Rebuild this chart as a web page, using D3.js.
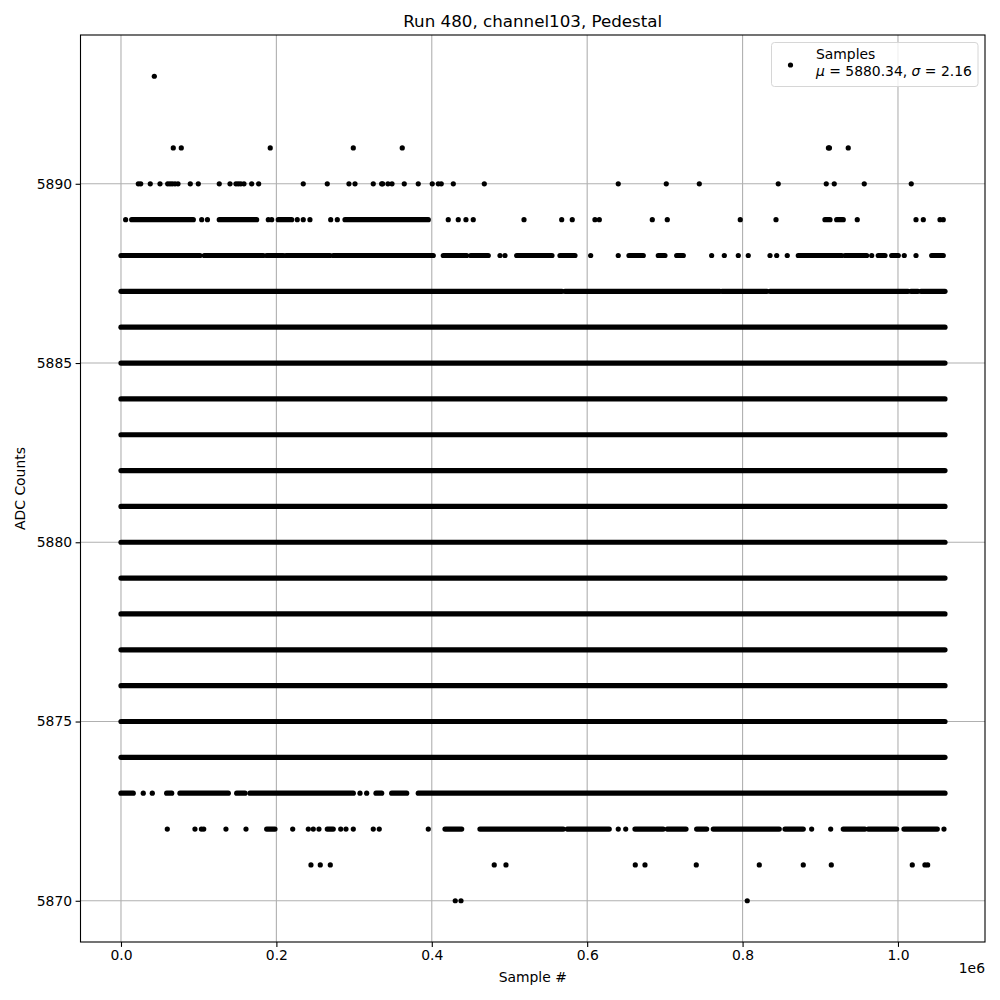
<!DOCTYPE html>
<html>
<head>
<meta charset="utf-8">
<script src="https://cdn.jsdelivr.net/npm/d3@7"></script>
<style>
  body { margin: 0; background: #fff; }
  text { font-family: "DejaVu Sans", sans-serif; fill: #000; }
</style>
</head>
<body>
<div id="chart"></div>
<script>
// x values are in units of 1e6 samples (as on the axis)
var xTicks = [0, 0.2, 0.4, 0.6, 0.8, 1.0];
var yTicks = [5870, 5875, 5880, 5885, 5890];

// levels that are filled end to end
var fullLevels = [5874, 5875, 5876, 5877, 5878, 5879, 5880, 5881, 5882, 5883, 5884, 5885, 5886];
var fullRange = [0, 1.0605];

// dense stretches (start, end) on the partly filled levels
var runs5887 = [[0, 0.5676], [0.5714, 0.7709], [0.7735, 0.8314], [0.8353, 1.0129], [1.0167, 1.0257], [1.0296, 1.0605]];
var runs5888 = [[0, 0.1017], [0.1072, 0.1831], [0.1875, 0.2089], [0.2124, 0.2690], [0.2732, 0.4019], [0.4148, 0.4449],
  [0.4501, 0.4727], [0.5093, 0.5264], [0.5264, 0.5547], [0.5650, 0.5843], [0.6538, 0.6722], [0.6915, 0.7001],
  [0.7152, 0.7237], [0.8717, 0.9275], [0.9318, 0.9597], [0.9746, 0.9833], [0.9919, 1.0004], [1.0434, 1.0583]];
var runs5889 = [[0.0138, 0.0931], [0.1265, 0.1746], [0.2024, 0.2197], [0.2883, 0.3955], [0.9060, 0.9125], [0.9211, 0.9296]];
var runs5873 = [[0, 0.0158], [0.0588, 0.0653], [0.0759, 0.1381], [0.1489, 0.1596], [0.1660, 0.2990], [0.3282, 0.3355],
  [0.3484, 0.3677], [0.3826, 1.0605]];
var runs5872 = [[0.1875, 0.1982], [0.2655, 0.2732], [0.4170, 0.4385], [0.4620, 0.5693], [0.5744, 0.6284], [0.6615, 0.6979],
  [0.7031, 0.7272], [0.7409, 0.7538], [0.7623, 0.8472], [0.8546, 0.8781], [0.9296, 0.9575], [0.9618, 0.9983], [1.0077, 1.0506]];

// single samples
var pts5893 = [0.0429];
var pts5891 = [0.0673, 0.0776, 0.1921, 0.2990, 0.3620, 0.9105, 0.9118, 0.9360];
var pts5890 = [0.0223, 0.0254, 0.0377, 0.0502, 0.0601, 0.0631, 0.0660, 0.0695, 0.0734, 0.0892, 0.0995, 0.1265,
  0.1403, 0.1480, 0.1510, 0.1541, 0.1583, 0.1682, 0.1772, 0.2346, 0.2655, 0.2934, 0.3012, 0.3247, 0.3355,
  0.3368, 0.3436, 0.3488, 0.3646, 0.3826, 0.4006, 0.4084, 0.4122, 0.4277, 0.4676, 0.6400, 0.7018, 0.7443,
  0.8459, 0.9077, 0.9180, 0.9566, 1.0171];
var pts5889 = [0.0060, 0.1039, 0.1113, 0.1896, 0.1940, 0.2269, 0.2346, 0.2432, 0.2699, 0.2784, 0.4212, 0.4341,
  0.4440, 0.4534, 0.5187, 0.5672, 0.5808, 0.6100, 0.6156, 0.6838, 0.7031, 0.7970, 0.8430, 0.9476, 1.0232,
  1.0326, 1.0541, 1.0583];
var pts5888 = [0.4878, 0.4942, 0.6045, 0.6400, 0.7602, 0.7765, 0.7945, 0.8073, 0.8353, 0.8439, 0.8575, 0.9662,
  1.0081, 1.0232];
var pts5873 = [0.0287, 0.0403, 0.3076, 0.3162];
var pts5872 = [0.0596, 0.0952, 0.1035, 0.1065, 0.1351, 0.1609, 0.2210, 0.2411, 0.2475, 0.2548, 0.2828, 0.2896,
  0.2990, 0.3247, 0.3324, 0.3955, 0.6400, 0.6496, 0.8889, 0.9134, 1.0592];
var pts5871 = [0.2445, 0.2565, 0.2694, 0.4804, 0.4955, 0.6619, 0.6744, 0.7404, 0.8215, 0.8781, 0.9142, 1.0184,
  1.0347, 1.0382];
var pts5870 = [0.4302, 0.4376, 0.8060];

var svgWidth = 1000;
var svgHeight = 1000;

var margin = { top: 35, right: 15, bottom: 58, left: 80.5 };
var width = svgWidth - margin.left - margin.right;
var height = svgHeight - margin.top - margin.bottom;

var svg = d3.select("#chart")
  .append("svg")
  .attr("width", svgWidth)
  .attr("height", svgHeight);

var chartGroup = svg.append("g")
  .attr("transform", `translate(${margin.left}, ${margin.top})`);

var xScale = d3.scaleLinear()
  .domain([-0.0521, 1.112])
  .range([0, width]);

var yScale = d3.scaleLinear()
  .domain([5868.85, 5894.15])
  .range([height, 0]);

// grid
chartGroup.append("g")
  .selectAll("line")
  .data(xTicks)
  .enter()
  .append("line")
  .attr("x1", d => xScale(d)).attr("x2", d => xScale(d))
  .attr("y1", 0).attr("y2", height)
  .attr("stroke", "#b0b0b0").attr("stroke-width", 1.1);

chartGroup.append("g")
  .selectAll("line")
  .data(yTicks)
  .enter()
  .append("line")
  .attr("y1", d => yScale(d)).attr("y2", d => yScale(d))
  .attr("x1", 0).attr("x2", width)
  .attr("stroke", "#b0b0b0").attr("stroke-width", 1.1);

// build run and point lists
var runs = [];
fullLevels.forEach(l => runs.push({ level: l, x0: fullRange[0], x1: fullRange[1] }));
[[5887, runs5887], [5888, runs5888], [5889, runs5889], [5873, runs5873], [5872, runs5872]].forEach(function(p) {
  p[1].forEach(r => runs.push({ level: p[0], x0: r[0], x1: r[1] }));
});

var points = [];
[[5893, pts5893], [5891, pts5891], [5890, pts5890], [5889, pts5889], [5888, pts5888],
 [5873, pts5873], [5872, pts5872], [5871, pts5871], [5870, pts5870]].forEach(function(p) {
  p[1].forEach(x => points.push({ level: p[0], x: x }));
});

var dotR = 2.6;

chartGroup.append("g")
  .selectAll("line")
  .data(runs)
  .enter()
  .append("line")
  .attr("x1", d => xScale(d.x0))
  .attr("x2", d => xScale(d.x1))
  .attr("y1", d => yScale(d.level))
  .attr("y2", d => yScale(d.level))
  .attr("stroke", "#000")
  .attr("stroke-width", dotR * 2)
  .attr("stroke-linecap", "round");

chartGroup.append("g")
  .selectAll("circle")
  .data(points)
  .enter()
  .append("circle")
  .attr("cx", d => xScale(d.x))
  .attr("cy", d => yScale(d.level))
  .attr("r", dotR)
  .attr("fill", "#000");

// axes
var bottomAxis = d3.axisBottom(xScale)
  .tickValues(xTicks)
  .tickFormat(d3.format(".1f"))
  .tickSize(4.9)
  .tickPadding(3.5);

var leftAxis = d3.axisLeft(yScale)
  .tickValues(yTicks)
  .tickFormat(d3.format("d"))
  .tickSize(4.9)
  .tickPadding(3.5);

var xAxis = chartGroup.append("g")
  .attr("transform", `translate(0, ${height})`)
  .call(bottomAxis);

var yAxis = chartGroup.append("g")
  .call(leftAxis);

[xAxis, yAxis].forEach(function(a) {
  a.select(".domain").remove();
  a.selectAll("line").attr("stroke", "#000").attr("stroke-width", 1.1);
  a.selectAll("text")
    .style("font-family", "DejaVu Sans")
    .style("font-size", "13.9px")
    .attr("fill", "#000");
});

// spines
chartGroup.append("rect")
  .attr("x", 0).attr("y", 0)
  .attr("width", width).attr("height", height)
  .attr("fill", "none")
  .attr("stroke", "#000")
  .attr("stroke-width", 1.1);

// title and labels
svg.append("text")
  .attr("x", margin.left + width / 2)
  .attr("y", 27)
  .attr("text-anchor", "middle")
  .style("font-size", "16.7px")
  .text("Run 480, channel103, Pedestal");

svg.append("text")
  .attr("x", margin.left + width / 2)
  .attr("y", 982)
  .attr("text-anchor", "middle")
  .style("font-size", "13.9px")
  .text("Sample #");

svg.append("text")
  .attr("transform", `translate(25, ${margin.top + height / 2}) rotate(-90)`)
  .attr("text-anchor", "middle")
  .style("font-size", "13.9px")
  .text("ADC Counts");

svg.append("text")
  .attr("x", margin.left + width)
  .attr("y", 973)
  .attr("text-anchor", "end")
  .style("font-size", "13.9px")
  .text("1e6");

// legend
var legend = svg.append("g");
legend.append("rect")
  .attr("x", 771.5).attr("y", 42.5)
  .attr("width", 206.5).attr("height", 44)
  .attr("rx", 3)
  .attr("fill", "#fff")
  .attr("fill-opacity", 0.8)
  .attr("stroke", "#d6d6d6")
  .attr("stroke-width", 1);

legend.append("circle")
  .attr("cx", 790.5).attr("cy", 65)
  .attr("r", dotR)
  .attr("fill", "#000");

legend.append("text")
  .attr("x", 816).attr("y", 59)
  .style("font-size", "13.9px")
  .text("Samples");

var stats = legend.append("text")
  .attr("x", 816).attr("y", 76)
  .style("font-size", "13.9px");
stats.append("tspan").style("font-style", "italic").text("\u03bc");
stats.append("tspan").text(" = 5880.34, ");
stats.append("tspan").style("font-style", "italic").text("\u03c3");
stats.append("tspan").text(" = 2.16");
</script>
</body>
</html>
